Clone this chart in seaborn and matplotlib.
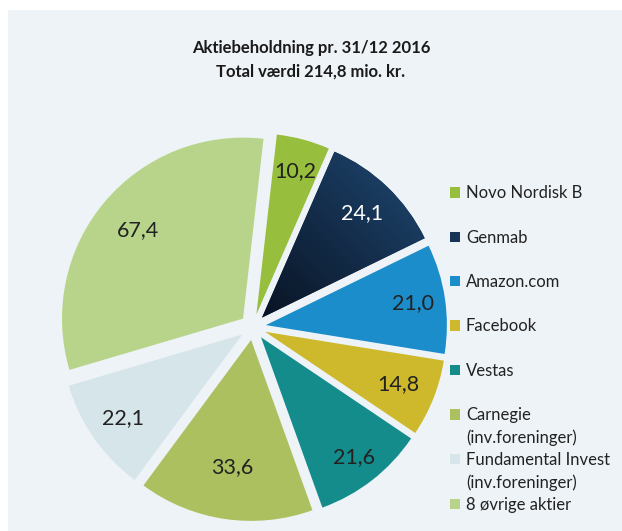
import matplotlib
matplotlib.use("Agg")
import matplotlib.pyplot as plt
import seaborn as sns
import numpy as np
from matplotlib.patches import Rectangle, Patch
from matplotlib.colors import LinearSegmentedColormap

sns.set_theme(style="white")
plt.rcParams['font.family'] = ['Lato', 'DejaVu Sans']

# ---- data ----
categories = ["Novo Nordisk B", "Genmab", "Amazon.com", "Facebook", "Vestas",
              "Carnegie\n(inv.foreninger)", "Fundamental Invest\n(inv.foreninger)",
              "8 øvrige aktier"]
values = [10.2, 24.1, 21.0, 14.8, 21.6, 33.6, 22.1, 67.4]
title_lines = ["Aktiebeholdning pr. 31/12 2016", "Total værdi 214,8 mio. kr."]

colors = ["#97BF3D", "#173456", "#1C8DCB", "#CDB92B", "#148C8C",
          "#ADC060", "#D6E5EA", "#B7D48A"]
label_colors = ["#222222", "white", "#222222", "#222222", "#222222",
                "#222222", "#222222", "#222222"]
# per-slice label distance (fraction of radius, from the slice apex)
label_dist = [0.82, 0.80, 0.82, 0.79, 0.84, 0.71, 0.805, 0.76]

W, H = 622, 531
fig = plt.figure(figsize=(W / 100, H / 100), dpi=100, facecolor="white")

# background panel
fig.patches.append(Rectangle((8 / W, 0), 1 - 8 / W, (H - 10) / H,
                             transform=fig.transFigure, facecolor="#EEF3F7",
                             edgecolor="none", zorder=-5))

r_px = 181
cx, cy = 253, 327
half = 1.1 * r_px
ax = fig.add_axes([(cx - half) / W, (H - cy - half) / H, 2 * half / W, 2 * half / H])
ax.set_zorder(2)
ax.patch.set_visible(False)

total = sum(values)
wedges, texts, autotexts = ax.pie(
    values, colors=colors, startangle=83.5, counterclock=False,
    explode=[0.072] * len(values), radius=1.0,
    autopct=lambda p: f"{p * total / 100:.1f}".replace(".", ","),
    pctdistance=0.79, wedgeprops=dict(linewidth=0),
    textprops=dict(fontsize=15.5))
for w, t, c, d in zip(wedges, autotexts, label_colors, label_dist):
    t.set_color(c)
    t.set_zorder(5)
    mid = np.deg2rad((w.theta1 + w.theta2) / 2)
    x0, y0 = w.center
    t.set_position((x0 + d * np.cos(mid), y0 + d * np.sin(mid)))

# gradient fill for the Genmab slice (dark lower-left -> lighter upper-right)
gx, gy = np.meshgrid(np.linspace(0, 1.1, 200), np.linspace(0, 1.1, 200))
grad = (gx + gy) / 2.2
cmap = LinearSegmentedColormap.from_list("genmab", ["#08111F", "#15304F", "#22527F"])
im = ax.imshow(grad, extent=(0, 1.1, 0, 1.1), origin="lower", cmap=cmap,
               zorder=wedges[1].get_zorder() + 0.5, interpolation="bilinear")
im.set_clip_path(wedges[1])

ax.set_xlim(-1.1, 1.1)
ax.set_ylim(-1.1, 1.1)
ax.set_aspect("equal")
ax.axis("off")

fig.text(0.5, 1 - 48 / H, title_lines[0], ha="center", va="center",
         fontsize=12, fontweight="bold", color="#1a1a1a")
fig.text(0.5, 1 - 72 / H, title_lines[1], ha="center", va="center",
         fontsize=12, fontweight="bold", color="#1a1a1a")

# legends
leg_kw = dict(frameon=False, loc="center left", borderpad=0, borderaxespad=0,
              handlelength=0.6, handleheight=0.6, handletextpad=0.35,
              fontsize=12, labelcolor="#222222")
h1 = [Patch(facecolor=colors[i], edgecolor="none") for i in range(5)]
l1 = categories[:5]
leg1 = fig.legend(h1, l1, bbox_to_anchor=(450 / W, 1 - 282 / H),
                  labelspacing=1.7, **leg_kw)

inv = Patch(facecolor="none", edgecolor="none")
h2 = [Patch(facecolor=colors[5], edgecolor="none"), inv,
      Patch(facecolor=colors[6], edgecolor="none"), inv,
      Patch(facecolor=colors[7], edgecolor="none")]
l2 = [categories[5].split("\n")[0], categories[5].split("\n")[1],
      categories[6].split("\n")[0], categories[6].split("\n")[1],
      categories[7]]
leg2 = fig.legend(h2, l2, bbox_to_anchor=(450 / W, 1 - 460 / H),
                  labelspacing=0.37, **leg_kw)

fig.savefig("out.png", dpi=100, facecolor="white")
